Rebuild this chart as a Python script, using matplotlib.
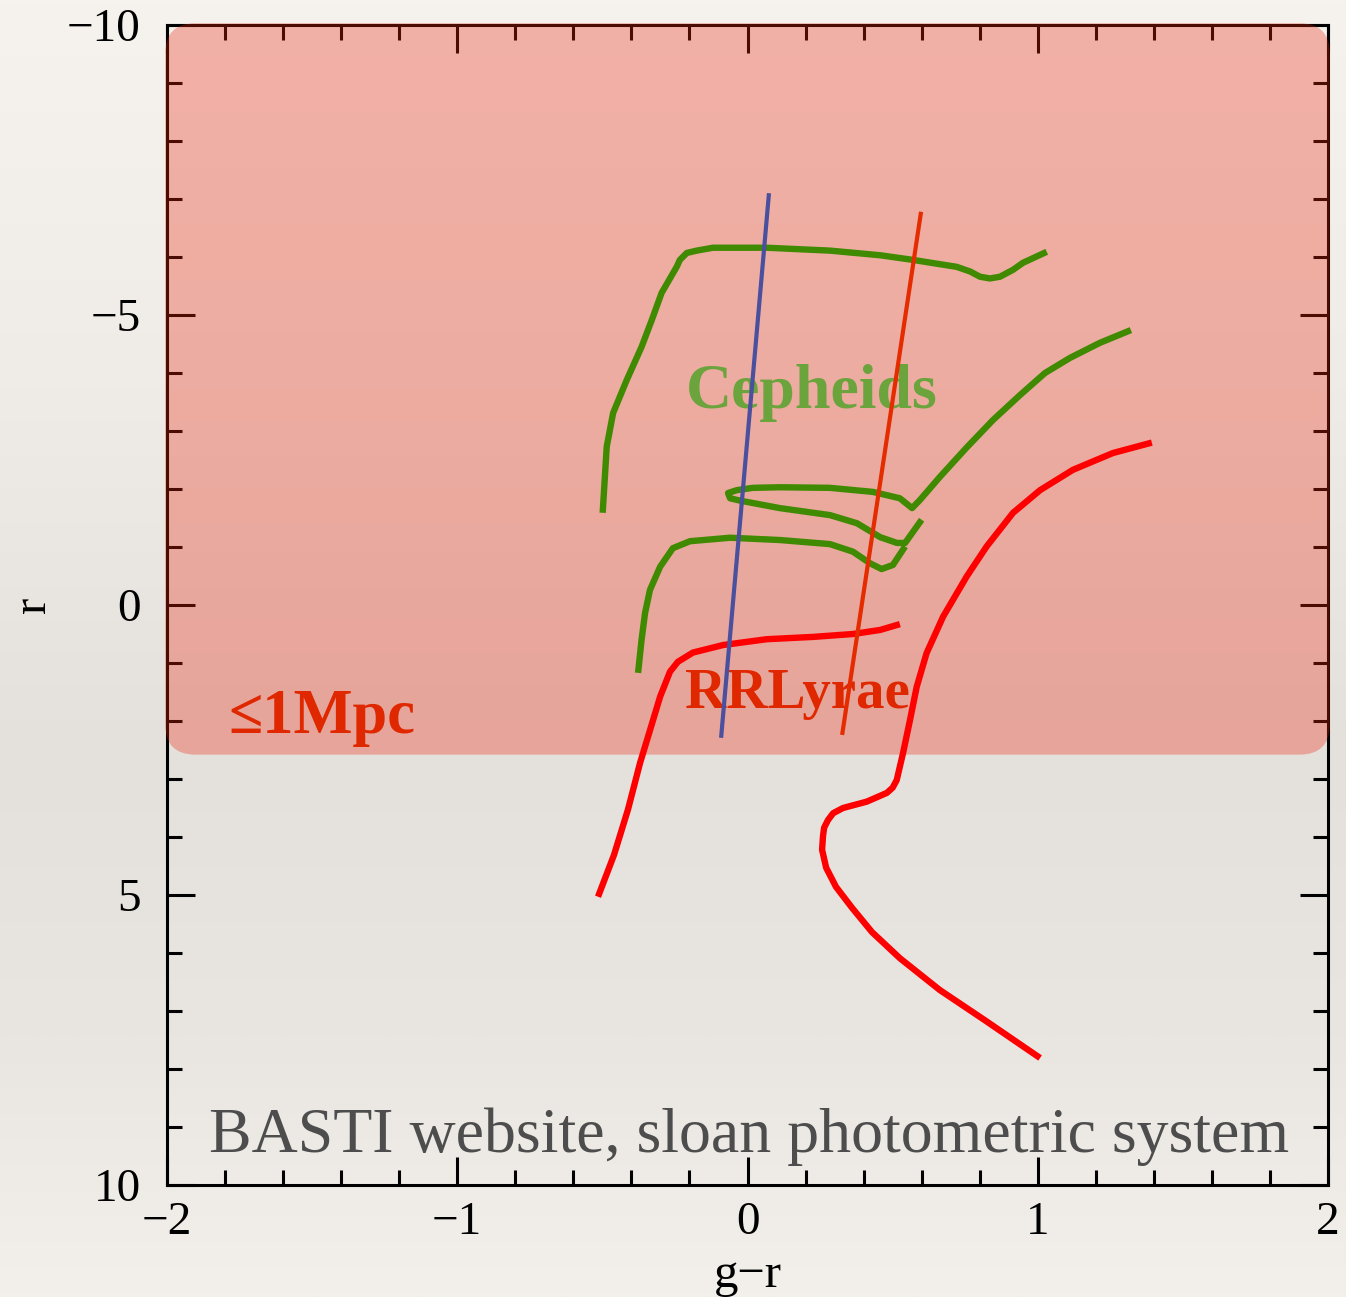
import numpy as np
import matplotlib
matplotlib.use("Agg")
import matplotlib.pyplot as plt
from matplotlib.patches import FancyBboxPatch
from matplotlib.colors import LinearSegmentedColormap
from matplotlib.ticker import MultipleLocator

# ---------------- data (g-r, r) ----------------
iso1_x = [-0.499, -0.485, -0.463, -0.416, -0.365, -0.330, -0.296, -0.244, -0.233, -0.209,
          -0.175, -0.119, 0.066, 0.284, 0.457, 0.570, 0.721, 0.767, 0.801, 0.835,
          0.870, 0.915, 0.949, 1.031]
iso1_y = [-1.59, -2.73, -3.31, -3.88, -4.45, -4.91, -5.38, -5.83, -5.95, -6.07,
          -6.11, -6.16, -6.16, -6.11, -6.03, -5.95, -5.83, -5.75, -5.66, -5.63,
          -5.66, -5.78, -5.90, -6.09]

iso2_x = [1.321, 1.214, 1.111, 1.025, 0.939, 0.846, 0.756, 0.663, 0.594, 0.567,
          0.525, 0.432, 0.284, 0.112, 0.019, -0.037, -0.067, -0.060, -0.026, 0.112,
          0.284, 0.377, 0.457, 0.515, 0.543, 0.600]
iso2_y = [-4.74, -4.52, -4.26, -4.00, -3.62, -3.19, -2.72, -2.21, -1.81, -1.67,
          -1.84, -1.95, -2.02, -2.03, -2.02, -1.98, -1.93, -1.84, -1.80, -1.67,
          -1.55, -1.41, -1.17, -1.07, -1.07, -1.47]

iso3_x = [-0.377, -0.365, -0.353, -0.336, -0.301, -0.257, -0.198, -0.060, 0.112, 0.284,
          0.363, 0.422, 0.462, 0.501, 0.543]
iso3_y = [1.17, 0.60, 0.14, -0.26, -0.66, -0.98, -1.10, -1.16, -1.12, -1.05,
          -0.92, -0.72, -0.62, -0.69, -1.01]

hb_x = [0.525, 0.457, 0.364, 0.226, 0.066, -0.084, -0.188, -0.240, -0.267, -0.301,
        -0.336, -0.370, -0.412, -0.460, -0.515]
hb_y = [0.33, 0.43, 0.50, 0.55, 0.59, 0.69, 0.82, 0.98, 1.15, 1.58,
        2.16, 2.72, 3.53, 4.31, 5.03]

old_x = [1.393, 1.259, 1.121, 1.008, 0.915, 0.824, 0.755, 0.674, 0.617, 0.583,
         0.560, 0.536, 0.514, 0.500, 0.480, 0.411, 0.329, 0.295, 0.277, 0.264,
         0.260, 0.257, 0.271, 0.305, 0.360, 0.429, 0.525, 0.663, 0.818, 1.008]
old_y = [-2.80, -2.62, -2.33, -1.98, -1.59, -1.01, -0.49, 0.20, 0.83, 1.41,
         1.98, 2.55, 3.02, 3.15, 3.24, 3.39, 3.50, 3.59, 3.71, 3.84,
         3.99, 4.22, 4.53, 4.86, 5.22, 5.64, 6.09, 6.64, 7.16, 7.81]

blue_edge_x = [0.074, -0.091]
blue_edge_y = [-7.10, 2.29]
red_edge_x = [0.598, 0.326]
red_edge_y = [-6.78, 2.24]

limit_r = 2.55  # r magnitude limit of the shaded region

xticks = [-2, -1, 0, 1, 2]
yticks = [-10, -5, 0, 5, 10]

# ---------------- figure ----------------
W, H = 1346, 1297
fig = plt.figure(figsize=(W / 100, H / 100), dpi=100)

# paper background
bg = fig.add_axes([0, 0, 1, 1], zorder=-5)
bg.axis("off")
cmap = LinearSegmentedColormap.from_list(
    "paper",
    [(0.0, "#f6f3ee"), (0.3, "#efece7"), (0.58, "#e4e1dc"), (0.8, "#e9e6e1"), (1.0, "#f3f0eb")])
grad = np.linspace(0, 1, 512)[:, None]
bg.imshow(grad, aspect="auto", cmap=cmap, extent=[0, 1, 0, 1], origin="upper")
bg.set_xlim(0, 1)
bg.set_ylim(0, 1)

ax = fig.add_axes([167 / W, (H - 1185) / H, 1161 / W, 1160 / H])
ax.set_facecolor("none")
ax.set_xlim(-2, 2)
ax.set_ylim(10, -10)

serif = ["Liberation Serif", "DejaVu Serif"]

ax.set_xticks(xticks)
ax.set_yticks(yticks)
ax.xaxis.set_minor_locator(MultipleLocator(0.2))
ax.yaxis.set_minor_locator(MultipleLocator(1))
ax.tick_params(which="both", direction="in", top=True, right=True, width=2.2, color="black")
ax.tick_params(which="major", length=20)
ax.tick_params(which="minor", length=11)
ax.tick_params(axis="y", which="major", pad=19)
ax.tick_params(axis="x", which="major", pad=12)
for lab in ax.get_xticklabels() + ax.get_yticklabels():
    lab.set_fontfamily(serif)
    lab.set_fontsize(34)
for s in ax.spines.values():
    s.set_linewidth(2.2)
    s.set_color("black")

# axis labels
ax.text(0.5, -0.0879, "g\u2212r", transform=ax.transAxes, ha="center", va="baseline",
        fontsize=35, family=serif, clip_on=False)
ax.text(-0.105, 0.5, "r", transform=ax.transAxes, ha="center", va="baseline",
        rotation=90, rotation_mode="anchor", fontsize=35, family=serif, clip_on=False)

# shaded region (<= 1 Mpc)
yfrac = (10 - limit_r) / 20.0
box = FancyBboxPatch((0.0, yfrac), 1.0, 1.0 - yfrac,
                     boxstyle="round,pad=0.0015,rounding_size=0.026",
                     transform=ax.transAxes, facecolor=(0.92, 0.15, 0.06), alpha=0.32,
                     edgecolor="none", zorder=3, clip_on=False)
ax.add_patch(box)

# curves
green = "#3f8a00"
kw = dict(solid_capstyle="butt", solid_joinstyle="round", zorder=5)
ax.plot(iso1_x, iso1_y, color=green, lw=4.6, **kw)
ax.plot(iso2_x, iso2_y, color=green, lw=4.6, **kw)
ax.plot(iso3_x, iso3_y, color=green, lw=4.6, **kw)
ax.plot(hb_x, hb_y, color="#ff0000", lw=4.6, **kw)
ax.plot(old_x, old_y, color="#ff0000", lw=4.6, **kw)
ax.plot(blue_edge_x, blue_edge_y, color="#4a4f9e", lw=3.0, **kw)
ax.plot(red_edge_x, red_edge_y, color="#e52b00", lw=3.0, **kw)

# annotations
ax.text(-0.212, -3.40, "Cepheids", color="#6ba33c", fontsize=46, fontweight="bold",
        family=serif, ha="left", va="baseline", zorder=4)
ax.text(-0.215, 1.78, "RRLyrae", color="#e02800", fontsize=41, fontweight="bold",
        family=serif, ha="left", va="baseline", zorder=4)
ax.text(-1.79, 2.21, "\u22641Mpc", color="#e02800", fontsize=45, fontweight="bold",
        family=serif, ha="left", va="baseline", zorder=4)
ax.text(0.005, 9.43, "BASTI website, sloan photometric system", color="#4d4d4d",
        fontsize=46, family=serif, ha="center", va="baseline", zorder=4)

fig.savefig("out.png", dpi=100)
